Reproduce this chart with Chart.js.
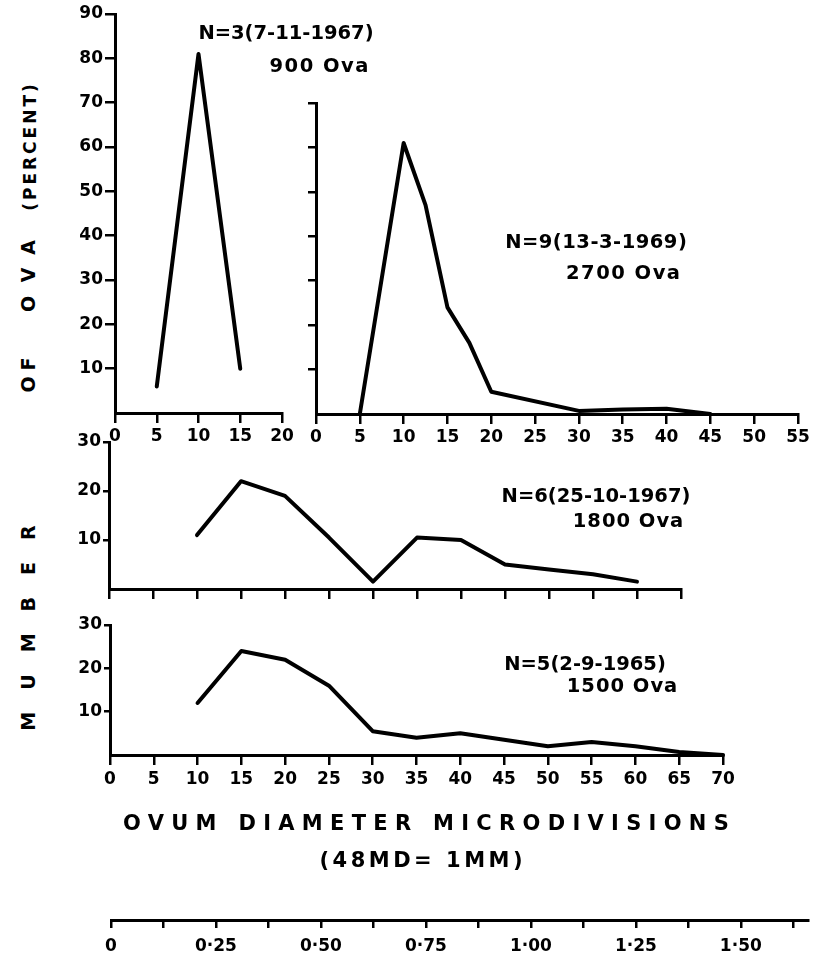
<!DOCTYPE html>
<html>
<head>
<meta charset="utf-8">
<title>Ovum diameter frequency</title>
<script src="https://cdn.jsdelivr.net/npm/chart.js@4.4.1/dist/chart.umd.min.js"></script>
<style>
  body { margin: 0; background: #fff; }
  #page { position: relative; width: 819px; height: 971px; overflow: hidden;
          font-family: "DejaVu Sans", sans-serif; font-weight: bold; color: #000; }
  canvas { position: absolute; }
  .txt { position: absolute; white-space: nowrap; line-height: 1; }
</style>
</head>
<body>
<div id="page">
  <canvas id="panelN3"></canvas>
  <canvas id="panelN9"></canvas>
  <canvas id="panelN6"></canvas>
  <canvas id="panelN5"></canvas>
  <canvas id="scaleMM"></canvas>
</div>

<script>
// ---- data (ovum diameter in microdivisions, % of ova) ----
// N=3 (7-11-1967), 900 ova
const n3Diam = [5, 10, 15];
const n3Pct  = [6, 81, 10];

// N=9 (13-3-1969), 2700 ova
const n9Diam = [5, 10, 12.5, 15, 17.5, 20, 30, 35, 40, 45];
const n9Pct  = [0, 61, 47, 24, 16, 5, 0.7, 1, 1.2, 0];

// N=6 (25-10-1967), 1800 ova
const n6Diam = [10, 15, 20, 25, 30, 35, 40, 45, 50, 55, 60];
const n6Pct  = [11, 22, 19, 10.5, 1.5, 10.5, 10, 5, 4, 3, 1.5];

// N=5 (2-9-1965), 1500 ova
const n5Diam = [10, 15, 20, 25, 30, 35, 40, 45, 50, 55, 60, 65, 70];
const n5Pct  = [12, 24, 22, 16, 5.5, 4, 5, 3.5, 2, 3, 2, 0.7, 0];

// millimetre scale under the chart (48 MD = 1 mm)
const mmTickValues = [0, 0.25, 0.5, 0.75, 1, 1.25, 1.5];
const mmTickLabels = ["0", "0·25", "0·50", "0·75", "1·00", "1·25", "1·50"];

const FONT = "DejaVu Sans";
const PAD = 18;

// puts the canvas so that the plot area lands on the given page box
function makePanel(id, area, o) {
    const yW = 48, xH = 40;
    const left = area.l - yW - PAD;
    const top = area.t - PAD;
    const w = area.r + PAD - left;
    const h = area.b + xH + PAD - top;
    const cv = document.getElementById(id);
    cv.width = w; cv.height = h;
    cv.style.left = left + "px"; cv.style.top = top + "px";
    cv.style.width = w + "px"; cv.style.height = h + "px";

    const tickFont = { family: FONT, size: 17, weight: "bold" };

    return new Chart(cv.getContext("2d"), {
        type: "line",
        data: {
            datasets: o.xs ? [{
                data: o.xs.map((x, i) => ({ x: x, y: o.ys[i] })),
                borderColor: "#000",
                borderWidth: 4,
                borderJoinStyle: "round",
                borderCapStyle: "round",
                pointRadius: 0,
                fill: false,
                tension: 0,
                clip: false
            }] : []
        },
        options: {
            responsive: false,
            devicePixelRatio: 1,
            animation: false,
            layout: { padding: PAD },
            plugins: { legend: { display: false }, tooltip: { enabled: false } },
            scales: {
                x: {
                    type: "linear",
                    min: 0,
                    max: o.xMax,
                    afterFit: s => { s.height = xH; },
                    border: { display: true, color: "#000", width: 3 },
                    grid: { drawOnChartArea: false, drawTicks: true, tickLength: o.xTick || 10, lineWidth: 2.5, color: "#000" },
                    ticks: {
                        stepSize: o.xStep || 5,
                        includeBounds: false,
                        autoSkip: false,
                        maxRotation: 0,
                        padding: o.xPad || 3,
                        color: "#000",
                        font: tickFont,
                        callback: o.xLabel || (v => v)
                    }
                },
                y: {
                    display: o.yMax !== undefined,
                    min: 0,
                    max: o.yMax,
                    afterFit: s => { s.width = yW; },
                    border: { display: true, color: "#000", width: 3 },
                    grid: {
                        drawOnChartArea: false, drawTicks: true, tickLength: o.yTick || 8, lineWidth: 2.5,
                        color: c => (c.tick && c.tick.value === 0) ? "rgba(0,0,0,0)" : "#000"
                    },
                    ticks: {
                        stepSize: 10,
                        autoSkip: false,
                        padding: 2,
                        color: "#000",
                        font: tickFont,
                        callback: v => (o.yLabels && v !== 0) ? v : ""
                    }
                }
            }
        }
    });
}

makePanel("panelN3", { l: 115, r: 282, t: 14, b: 413 },
    { xs: n3Diam, ys: n3Pct, xMax: 20, yMax: 90, yLabels: true, yTick: 10 });

makePanel("panelN9", { l: 316, r: 798, t: 103, b: 414 },
    { xs: n9Diam, ys: n9Pct, xMax: 55, yMax: 70, yLabels: false });

makePanel("panelN6", { l: 109, r: 681, t: 442, b: 589 },
    { xs: n6Diam, ys: n6Pct, xMax: 65, yMax: 30, yLabels: true, yTick: 6, xLabel: () => "" });

makePanel("panelN5", { l: 110, r: 723, t: 625, b: 755 },
    { xs: n5Diam, ys: n5Pct, xMax: 70, yMax: 30, yLabels: true, yTick: 6, xPad: 4 });

makePanel("scaleMM", { l: 111, r: 808, t: 880, b: 920 }, {
    xMax: 1.66, xStep: 0.125, xTick: 8, xPad: 8,
    xLabel: v => {
        const k = mmTickValues.findIndex(m => Math.abs(m - v) < 1e-6);
        return k >= 0 ? mmTickLabels[k] : "";
    }
});

// ---- text ----
const page = document.getElementById("page");

function addText(str, cx, cy, size, spacing, rotate) {
    const d = document.createElement("div");
    d.className = "txt";
    d.textContent = str;
    d.style.fontSize = size + "px";
    d.style.letterSpacing = (spacing || 0) + "px";
    // trailing letter spacing moves the box centre; shift back
    const s = (spacing || 0) / 2;
    if (rotate) {
        d.style.left = cx + "px";
        d.style.top = (cy - s) + "px";
        d.style.transform = "translate(-50%,-50%) rotate(-90deg)";
    } else {
        d.style.left = (cx + s) + "px";
        d.style.top = cy + "px";
        d.style.transform = "translate(-50%,-50%)";
    }
    page.appendChild(d);
}

addText("N=3(7-11-1967)", 286, 33, 19.5, 0);
addText("900 Ova", 319, 66, 19.5, 1.5);
addText("N=9(13-3-1969)", 596, 242, 19.5, 0.5);
addText("2700 Ova", 623, 273, 19.5, 1.5);
addText("N=6(25-10-1967)", 596, 496, 19.5, 0);
addText("1800 Ova", 628, 521, 19.5, 1);
addText("N=5(2-9-1965)", 585, 664, 19.5, 0);
addText("1500 Ova", 622, 686, 19.5, 1);

addText("OVUM DIAMETER  MICRODIVISIONS", 426, 823, 21, 7.3);
addText("(48MD= 1MM)", 421, 860, 21, 3.5);

addText("(PERCENT)", 30, 147, 17, 3, true);
addText("OVA", 28, 276, 19, 14, true);
addText("OF", 28, 375, 19, 6, true);
addText("MUMBER", 28, 628, 19, 22, true);
</script>
</body>
</html>
